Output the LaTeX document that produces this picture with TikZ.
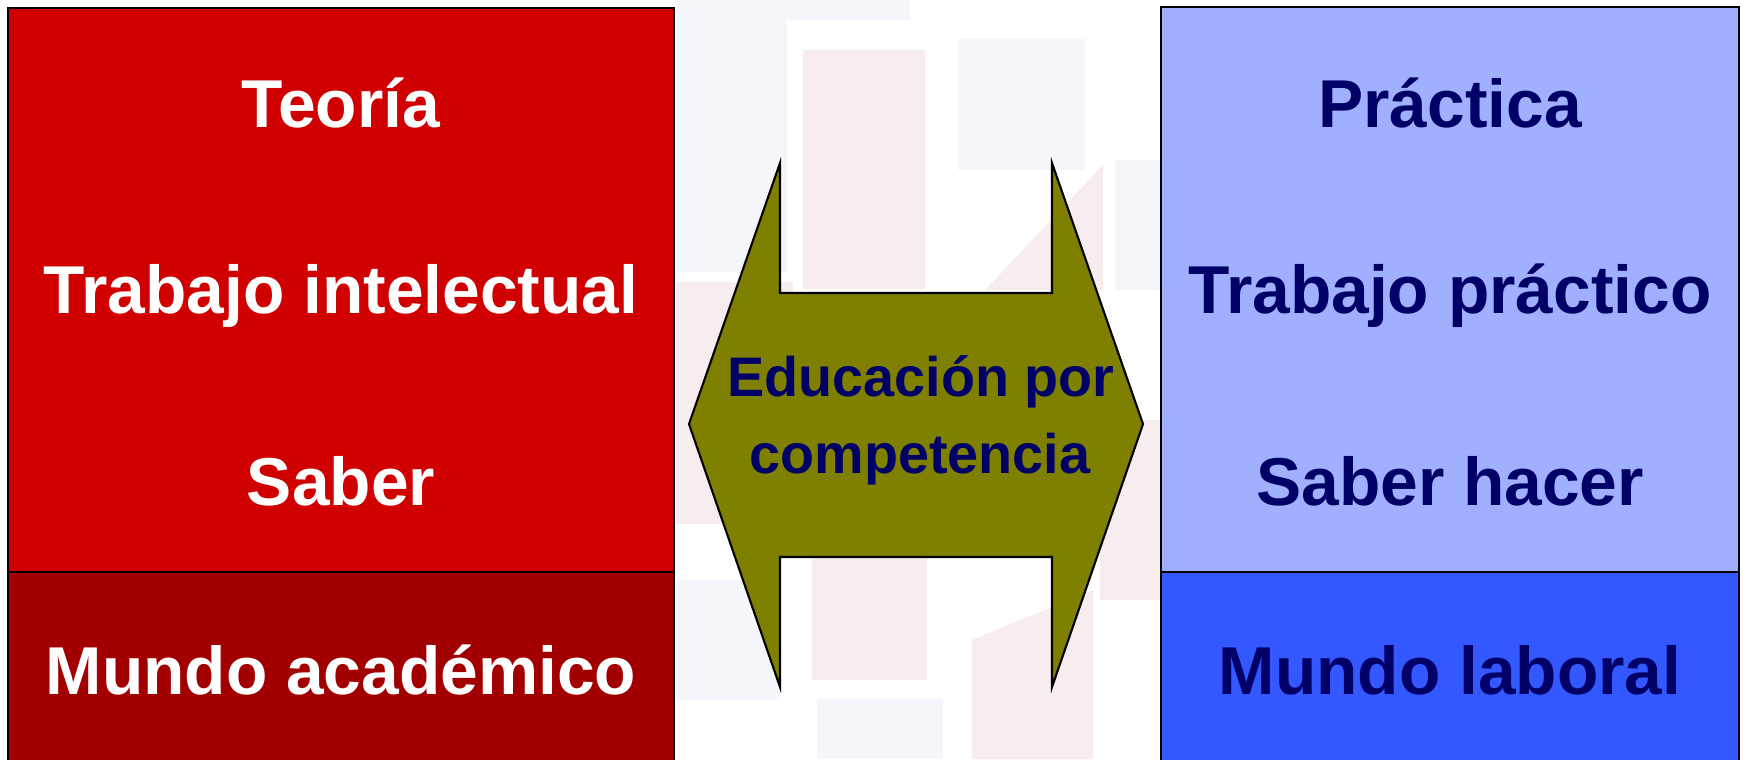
\documentclass[tikz,border=0pt]{standalone}
\usepackage{fontspec}
\setmainfont{Liberation Sans}
\definecolor{redtop}{RGB}{208,0,0}
\definecolor{redbot}{RGB}{162,0,0}
\definecolor{bluetop}{RGB}{160,176,255}
\definecolor{bluebot}{RGB}{51,88,255}
\definecolor{navy}{RGB}{0,0,102}
\definecolor{olive}{RGB}{128,128,0}
\definecolor{bgpink}{RGB}{236,206,208}
\definecolor{bgblue}{RGB}{226,232,244}
\tikzset{
  panel/.style={draw=black,line width=0.6pt,inner sep=0pt,outer sep=0pt,anchor=north west},
  bigtxt/.style={font=\fontsize{19.25pt}{22pt}\selectfont\bfseries,anchor=base,inner sep=0pt},
  arrowtxt/.style={font=\fontsize{15.85pt}{21.9pt}\selectfont\bfseries,text=navy,anchor=base,inner sep=0pt},
  bgpatch/.style={opacity=0.35}
}
\begin{document}
\begin{tikzpicture}[x=0.01cm,y=-0.01cm]
\useasboundingbox (0,0) rectangle (1743,759);
\clip (0,0) rectangle (1743,759);
\fill[white] (0,0) rectangle (1743,759);
% faint background pattern
\fill[bgblue,bgpatch] (676,0) rectangle (910,20);
\fill[bgblue,bgpatch] (676,20) rectangle (787,272);
\fill[bgpink,bgpatch] (803,50) rectangle (925,289);
\fill[bgblue,bgpatch] (958,39) rectangle (1085,170);
\fill[bgblue,bgpatch] (1115,160) rectangle (1160,290);
\fill[bgpink,bgpatch] (676,282) rectangle (793,524);
\fill[bgpink,bgpatch] (985,290) -- (1103,165) -- (1103,290) -- cycle;
\fill[bgpink,bgpatch] (1100,420) rectangle (1160,600);
\fill[bgpink,bgpatch] (812,558) rectangle (927,680);
\fill[bgpink,bgpatch] (972,640) -- (1093,590) -- (1093,759) -- (972,759) -- cycle;
\fill[bgblue,bgpatch] (817,699) rectangle (943,759);
\fill[bgblue,bgpatch] (676,580) rectangle (780,700);
% left panel
\node[panel,fill=redtop,minimum width=6.66cm,minimum height=5.64cm] (ltop) at (8,8) {};
\node[panel,fill=redbot,minimum width=6.66cm,minimum height=2.0cm] (lbot) at (8,572) {};
% right panel
\node[panel,fill=bluetop,minimum width=5.78cm,minimum height=5.65cm] (rtop) at (1161,7) {};
\node[panel,fill=bluebot,minimum width=5.78cm,minimum height=2.0cm] (rbot) at (1161,572) {};
% left texts
\node[bigtxt,text=white] (teoria) at (341,127) {Teoría};
\node[bigtxt,text=white] (trabint) at (341,313) {Trabajo intelectual};
\node[bigtxt,text=white] (saber) at (341,505) {Saber};
\node[bigtxt,text=white] (mundoac) at (341,694) {Mundo académico};
% right texts
\node[bigtxt,text=navy] (practica) at (1450,127) {Práctica};
\node[bigtxt,text=navy] (trabprac) at (1450,313) {Trabajo práctico};
\node[bigtxt,text=navy] (saberh) at (1450,505) {Saber hacer};
\node[bigtxt,text=navy] (mundolab) at (1450,694) {Mundo laboral};
% double arrow
\coordinate (ltip) at (689,424);
\coordinate (rtip) at (1143,424);
\draw[fill=olive,line width=0.6pt,line join=miter] (ltip) -- (780,163) -- (780,293) -- (1052,293) -- (1052,163) -- (rtip) -- (1052,687) -- (1052,557) -- (780,557) -- (780,687) -- cycle;
\node[arrowtxt] (edu1) at (921,396) {Educación por};
\node[arrowtxt] (edu2) at (920,473) {competencia};
\end{tikzpicture}
\end{document}
